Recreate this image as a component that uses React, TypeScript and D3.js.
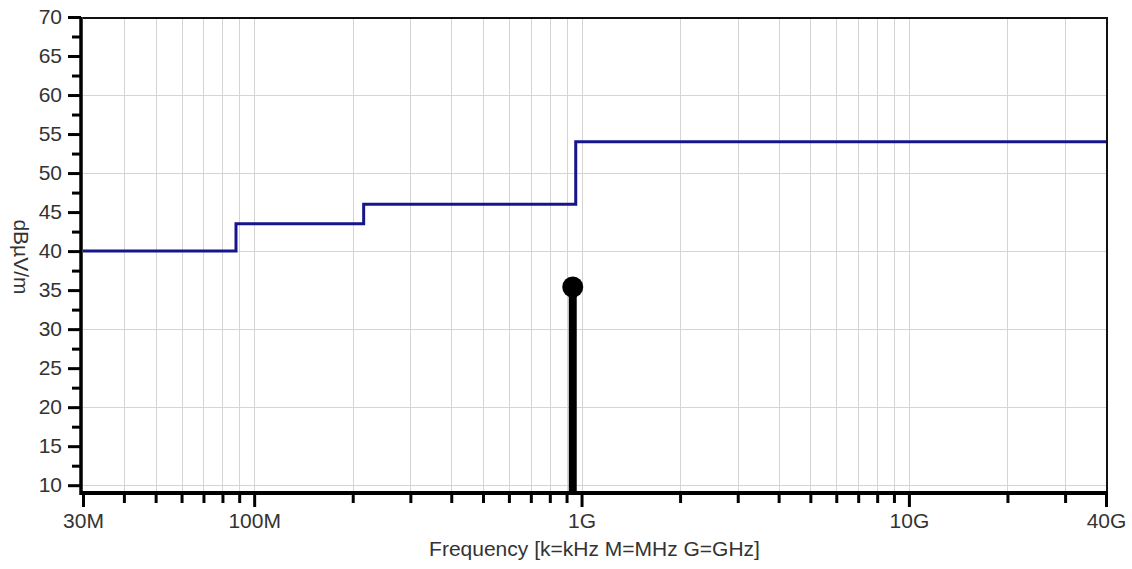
import React, { useEffect, useRef } from "react";
import * as d3 from "d3";

// limit line (step), frequency in Hz
const limitFreqs = [30e6, 88e6, 216e6, 960e6, 40e9];
const limitLevels = [40, 43.5, 46, 54, 54];

// measured peak
const peakFreqs = [940e6];
const peakLevels = [35.4];

const xMajorTicks = [30e6, 100e6, 1e9, 10e9, 40e9];
const xMajorLabels = ["30M", "100M", "1G", "10G", "40G"];
const xMinorTicks = [
  40e6, 50e6, 60e6, 70e6, 80e6, 90e6,
  200e6, 300e6, 400e6, 500e6, 600e6, 700e6, 800e6, 900e6,
  2e9, 3e9, 4e9, 5e9, 6e9, 7e9, 8e9, 9e9,
  20e9, 30e9,
];
const yMajorTicks = [10, 15, 20, 25, 30, 35, 40, 45, 50, 55, 60, 65, 70];
const yMinorTicks = [12.5, 17.5, 22.5, 27.5, 32.5, 37.5, 42.5, 47.5, 52.5, 57.5, 62.5, 67.5];
const yGrid = [10, 20, 30, 40, 50, 60];

const W = 1132;
const H = 569;

export default function App() {
  const ref = useRef<SVGSVGElement>(null);

  useEffect(() => {
    const svg = d3.select(ref.current);
    svg.selectAll("*").remove();

    const left = 83, right = 1106, top = 17, bottom = 493;
    const font = "'Liberation Sans', Arial, sans-serif";

    const x = d3.scaleLog().domain([30e6, 40e9]).range([left, right]);
    const y = d3.scaleLinear().domain([9, 70]).range([bottom, top]);

    // grid
    const grid = svg.append("g").attr("stroke", "#d4d4d4").attr("stroke-width", 1);
    grid.selectAll("line.v")
      .data(xMinorTicks.concat([100e6, 1e9, 10e9]))
      .join("line")
      .attr("class", "v")
      .attr("x1", d => Math.round(x(d)) + 0.5)
      .attr("x2", d => Math.round(x(d)) + 0.5)
      .attr("y1", top)
      .attr("y2", bottom);
    grid.selectAll("line.h")
      .data(yGrid)
      .join("line")
      .attr("class", "h")
      .attr("x1", left)
      .attr("x2", right)
      .attr("y1", d => Math.round(y(d)) + 0.5)
      .attr("y2", d => Math.round(y(d)) + 0.5);

    // frame top / right
    svg.append("path")
      .attr("d", `M${left},${top + 1}H${right + 1}V${bottom}`)
      .attr("fill", "none")
      .attr("stroke", "#111")
      .attr("stroke-width", 2);

    // limit line
    const pts = limitFreqs.map((f, i) => [f, limitLevels[i]] as [number, number]);
    svg.append("path")
      .datum(pts)
      .attr("fill", "none")
      .attr("stroke", "#16168c")
      .attr("stroke-width", 3)
      .attr("d", d3.line<[number, number]>()
        .x(d => x(d[0]))
        .y(d => y(d[1]))
        .curve(d3.curveStepAfter));

    // peak stem + marker
    const peaks = peakFreqs.map((f, i) => ({ f, v: peakLevels[i] }));
    svg.selectAll("line.stem")
      .data(peaks)
      .join("line")
      .attr("class", "stem")
      .attr("x1", d => x(d.f))
      .attr("x2", d => x(d.f))
      .attr("y1", bottom)
      .attr("y2", d => y(d.v))
      .attr("stroke", "#000")
      .attr("stroke-width", 8);
    svg.selectAll("circle.pk")
      .data(peaks)
      .join("circle")
      .attr("class", "pk")
      .attr("cx", d => x(d.f))
      .attr("cy", d => y(d.v))
      .attr("r", 10.5)
      .attr("fill", "#000");

    // y axis
    const yAxisG = svg.append("g").attr("transform", `translate(${left - 2},0)`);
    yAxisG.call(d3.axisLeft(y).tickValues(yMinorTicks).tickSize(9).tickFormat(() => ""));
    yAxisG.call(g => g.selectAll(".domain").remove());
    const yMaj = svg.append("g").attr("transform", `translate(${left - 2},0)`)
      .call(d3.axisLeft(y).tickValues(yMajorTicks).tickSize(13).tickPadding(6).tickSizeOuter(0));
    svg.selectAll("g line").filter(function () {
      return (this as SVGLineElement).parentElement?.classList.contains("tick") ?? false;
    });
    [yAxisG, yMaj].forEach(g => {
      g.selectAll(".tick line").attr("stroke", "#000").attr("stroke-width", 3);
      g.select(".domain").remove();
    });
    yMaj.selectAll(".tick text")
      .attr("font-family", font)
      .attr("font-size", 21)
      .attr("fill", "#333");
    svg.append("line")
      .attr("x1", left - 2).attr("x2", left - 2)
      .attr("y1", top).attr("y2", bottom + 2)
      .attr("stroke", "#000").attr("stroke-width", 3.5);

    // x axis
    const xMin = svg.append("g").attr("transform", `translate(0,${bottom})`)
      .call(d3.axisBottom(x).tickValues(xMinorTicks).tickSize(10).tickFormat(() => ""));
    const xMaj = svg.append("g").attr("transform", `translate(0,${bottom})`)
      .call(d3.axisBottom(x).tickValues(xMajorTicks).tickSize(14).tickPadding(6)
        .tickFormat((d, i) => xMajorLabels[i]));
    [xMin, xMaj].forEach(g => {
      g.selectAll(".tick line").attr("stroke", "#000").attr("stroke-width", 3);
      g.select(".domain").remove();
    });
    xMaj.selectAll(".tick text")
      .attr("font-family", font)
      .attr("font-size", 21)
      .attr("fill", "#333");
    svg.append("line")
      .attr("x1", left - 3).attr("x2", right + 2)
      .attr("y1", bottom).attr("y2", bottom)
      .attr("stroke", "#000").attr("stroke-width", 4);

    // titles
    svg.append("text")
      .attr("x", (left + right) / 2)
      .attr("y", 556)
      .attr("text-anchor", "middle")
      .attr("font-family", font)
      .attr("font-size", 21)
      .attr("fill", "#333")
      .text("Frequency [k=kHz M=MHz G=GHz]");
    svg.append("text")
      .attr("transform", `translate(14,${(217 + 297) / 2}) rotate(90)`)
      .attr("text-anchor", "middle")
      .attr("font-family", font)
      .attr("font-size", 21)
      .attr("fill", "#333")
      .text("dBµV/m");
  }, []);

  return (
    <svg
      ref={ref}
      width={W}
      height={H}
      style={{ position: "absolute", left: 0, top: 0, background: "#fff" }}
    />
  );
}
